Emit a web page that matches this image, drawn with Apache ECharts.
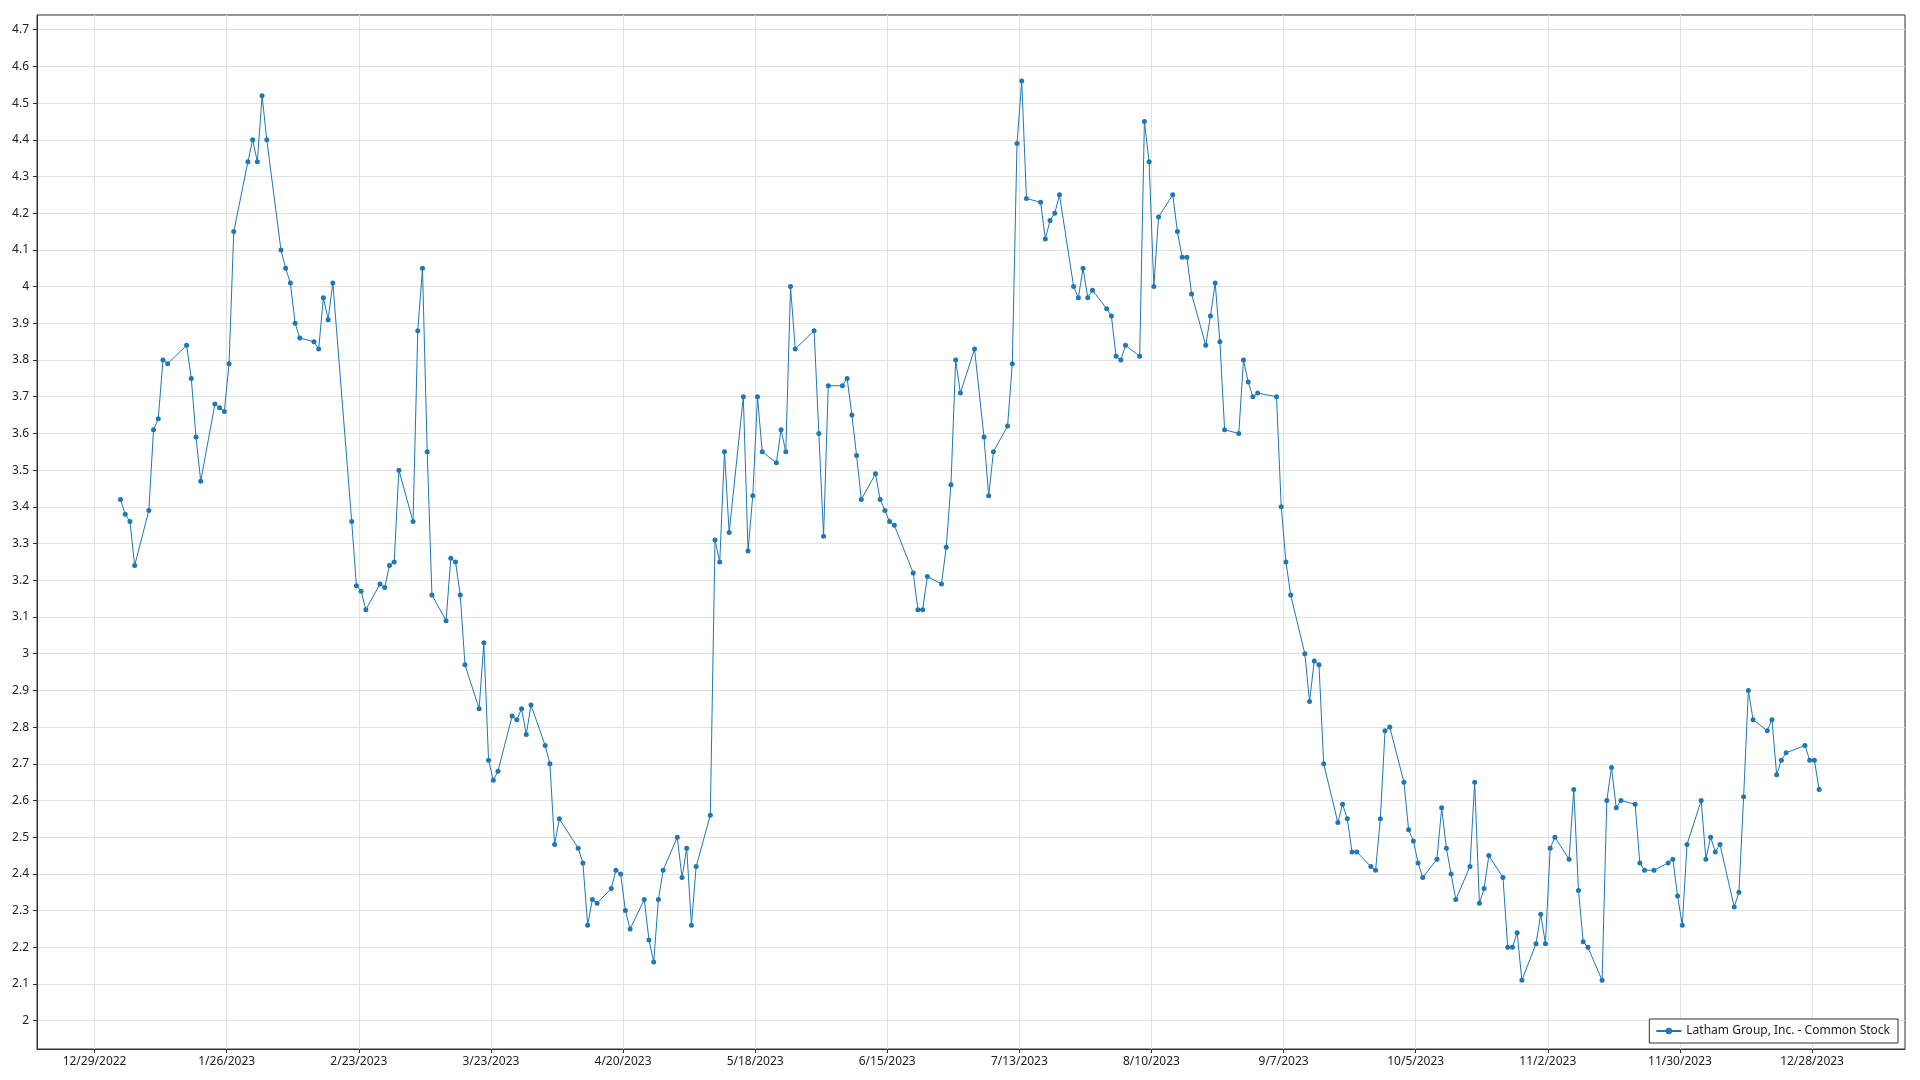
<!DOCTYPE html>
<html>
<head>
<meta charset="utf-8">
<script src="https://cdn.jsdelivr.net/npm/echarts@6/dist/echarts.min.js"></script>
<style>html,body{margin:0;padding:0;background:#fff}#c{width:1920px;height:1080px}</style>
</head>
<body>
<div id="c"></div>
<script>
const seriesName = 'Latham Group, Inc. - Common Stock';
const xTickLabels = ['12/29/2022','1/26/2023','2/23/2023','3/23/2023','4/20/2023','5/18/2023','6/15/2023','7/13/2023','8/10/2023','9/7/2023','10/5/2023','11/2/2023','11/30/2023','12/28/2023'];
const yTickLabels = ['2','2.1','2.2','2.3','2.4','2.5','2.6','2.7','2.8','2.9','3','3.1','3.2','3.3','3.4','3.5','3.6','3.7','3.8','3.9','4','4.1','4.2','4.3','4.4','4.5','4.6','4.7'];
const dates = [
'2023-01-03','2023-01-04','2023-01-05','2023-01-06','2023-01-09','2023-01-10','2023-01-11','2023-01-12','2023-01-13',
'2023-01-17','2023-01-18','2023-01-19','2023-01-20','2023-01-23','2023-01-24','2023-01-25','2023-01-26','2023-01-27',
'2023-01-30','2023-01-31','2023-02-01','2023-02-02','2023-02-03','2023-02-06','2023-02-07','2023-02-08','2023-02-09','2023-02-10',
'2023-02-13','2023-02-14','2023-02-15','2023-02-16','2023-02-17','2023-02-21','2023-02-22','2023-02-23','2023-02-24',
'2023-02-27','2023-02-28','2023-03-01','2023-03-02','2023-03-03','2023-03-06','2023-03-07','2023-03-08','2023-03-09','2023-03-10',
'2023-03-13','2023-03-14','2023-03-15','2023-03-16','2023-03-17','2023-03-20','2023-03-21','2023-03-22','2023-03-23','2023-03-24',
'2023-03-27','2023-03-28','2023-03-29','2023-03-30','2023-03-31','2023-04-03','2023-04-04','2023-04-05','2023-04-06',
'2023-04-10','2023-04-11','2023-04-12','2023-04-13','2023-04-14','2023-04-17','2023-04-18','2023-04-19','2023-04-20','2023-04-21',
'2023-04-24','2023-04-25','2023-04-26','2023-04-27','2023-04-28','2023-05-01','2023-05-02','2023-05-03','2023-05-04','2023-05-05',
'2023-05-08','2023-05-09','2023-05-10','2023-05-11','2023-05-12','2023-05-15','2023-05-16','2023-05-17','2023-05-18','2023-05-19',
'2023-05-22','2023-05-23','2023-05-24','2023-05-25','2023-05-26','2023-05-30','2023-05-31','2023-06-01','2023-06-02',
'2023-06-05','2023-06-06','2023-06-07','2023-06-08','2023-06-09','2023-06-12','2023-06-13','2023-06-14','2023-06-15','2023-06-16',
'2023-06-20','2023-06-21','2023-06-22','2023-06-23','2023-06-26','2023-06-27','2023-06-28','2023-06-29','2023-06-30',
'2023-07-03','2023-07-05','2023-07-06','2023-07-07','2023-07-10','2023-07-11','2023-07-12','2023-07-13','2023-07-14',
'2023-07-17','2023-07-18','2023-07-19','2023-07-20','2023-07-21','2023-07-24','2023-07-25','2023-07-26','2023-07-27','2023-07-28',
'2023-07-31','2023-08-01','2023-08-02','2023-08-03','2023-08-04','2023-08-07','2023-08-08','2023-08-09','2023-08-10','2023-08-11',
'2023-08-14','2023-08-15','2023-08-16','2023-08-17','2023-08-18','2023-08-21','2023-08-22','2023-08-23','2023-08-24','2023-08-25',
'2023-08-28','2023-08-29','2023-08-30','2023-08-31','2023-09-01','2023-09-05','2023-09-06','2023-09-07','2023-09-08',
'2023-09-11','2023-09-12','2023-09-13','2023-09-14','2023-09-15','2023-09-18','2023-09-19','2023-09-20','2023-09-21','2023-09-22',
'2023-09-25','2023-09-26','2023-09-27','2023-09-28','2023-09-29','2023-10-02','2023-10-03','2023-10-04','2023-10-05','2023-10-06',
'2023-10-09','2023-10-10','2023-10-11','2023-10-12','2023-10-13','2023-10-16','2023-10-17','2023-10-18','2023-10-19','2023-10-20',
'2023-10-23','2023-10-24','2023-10-25','2023-10-26','2023-10-27','2023-10-30','2023-10-31','2023-11-01','2023-11-02','2023-11-03',
'2023-11-06','2023-11-07','2023-11-08','2023-11-09','2023-11-10','2023-11-13','2023-11-14','2023-11-15','2023-11-16','2023-11-17',
'2023-11-20','2023-11-21','2023-11-22','2023-11-24','2023-11-27','2023-11-28','2023-11-29','2023-11-30','2023-12-01',
'2023-12-04','2023-12-05','2023-12-06','2023-12-07','2023-12-08','2023-12-11','2023-12-12','2023-12-13','2023-12-14','2023-12-15',
'2023-12-18','2023-12-19','2023-12-20','2023-12-21','2023-12-22','2023-12-26','2023-12-27','2023-12-28','2023-12-29'
];
const prices = [
3.42,3.38,3.36,3.24,3.39,3.61,3.64,3.80,3.79,
3.84,3.75,3.59,3.47,3.68,3.67,3.66,3.79,4.15,
4.34,4.40,4.34,4.52,4.40,4.10,4.05,4.01,3.90,3.86,
3.85,3.83,3.97,3.91,4.01,3.36,3.185,3.17,3.12,
3.19,3.18,3.24,3.25,3.50,3.36,3.88,4.05,3.55,3.16,
3.09,3.26,3.25,3.16,2.97,2.85,3.03,2.71,2.655,2.68,
2.83,2.82,2.85,2.78,2.86,2.75,2.70,2.48,2.55,
2.47,2.43,2.26,2.33,2.32,2.36,2.41,2.40,2.30,2.25,
2.33,2.22,2.16,2.33,2.41,2.50,2.39,2.47,2.26,2.42,
2.56,3.31,3.25,3.55,3.33,3.70,3.28,3.43,3.70,3.55,
3.52,3.61,3.55,4.00,3.83,3.88,3.60,3.32,3.73,
3.73,3.75,3.65,3.54,3.42,3.49,3.42,3.39,3.36,3.35,
3.22,3.12,3.12,3.21,3.19,3.29,3.46,3.80,3.71,
3.83,3.59,3.43,3.55,3.62,3.79,4.39,4.56,4.24,
4.23,4.13,4.18,4.20,4.25,4.00,3.97,4.05,3.97,3.99,
3.94,3.92,3.81,3.80,3.84,3.81,4.45,4.34,4.00,4.19,
4.25,4.15,4.08,4.08,3.98,3.84,3.92,4.01,3.85,3.61,
3.60,3.80,3.74,3.70,3.71,3.70,3.40,3.25,3.16,
3.00,2.87,2.98,2.97,2.70,2.54,2.59,2.55,2.46,2.46,
2.42,2.41,2.55,2.79,2.80,2.65,2.52,2.49,2.43,2.39,
2.44,2.58,2.47,2.40,2.33,2.42,2.65,2.32,2.36,2.45,
2.39,2.20,2.20,2.24,2.11,2.21,2.29,2.21,2.47,2.50,
2.44,2.63,2.355,2.215,2.20,2.11,2.60,2.69,2.58,2.60,
2.59,2.43,2.41,2.41,2.43,2.44,2.34,2.26,2.48,
2.60,2.44,2.50,2.46,2.48,2.31,2.35,2.61,2.90,2.82,
2.79,2.82,2.67,2.71,2.73,2.75,2.71,2.71,2.63
];

const DAY = 86400000;
const ORIGIN = Date.UTC(2022, 11, 29);
function isoDay(s) {
  const p = s.split('-').map(Number);
  return (Date.UTC(p[0], p[1] - 1, p[2]) - ORIGIN) / DAY;
}
function usDay(s) {
  const p = s.split('/').map(Number);
  return (Date.UTC(p[2], p[0] - 1, p[1]) - ORIGIN) / DAY;
}
const xTickValues = xTickLabels.map(usDay);
const yTickValues = yTickLabels.map(Number);
const points = dates.map((d, i) => [isoDay(d) + 0.5, prices[i]]);
function xFmt(v) {
  const i = xTickValues.findIndex(t => Math.abs(t - v) < 1e-6);
  return i >= 0 ? xTickLabels[i] : '';
}
function yFmt(v) {
  const i = yTickValues.findIndex(t => Math.abs(t - v) < 1e-6);
  return i >= 0 ? yTickLabels[i] : '';
}

const chart = echarts.init(document.getElementById('c'));
const font = 'Noto Sans';
chart.setOption({
  animation: false,
  backgroundColor: '#fff',
  grid: {left: 37, right: 15, top: 15, bottom: 31, show: true, borderColor: '#333', borderWidth: 1, containLabel: false},
  xAxis: {
    type: 'value', min: -12.2, max: 383.7,
    axisLine: {show: true, onZero: false, lineStyle: {color: '#333', width: 1}},
    axisTick: {show: true, length: 4, customValues: xTickValues, lineStyle: {color: '#333'}},
    axisLabel: {show: true, customValues: xTickValues, formatter: xFmt, color: '#222', fontFamily: font, fontSize: 12, margin: 7},
    splitLine: {show: true, lineStyle: {color: '#e2e2e2', width: 1}}
  },
  yAxis: {
    type: 'value', min: 1.923, max: 4.74,
    axisLine: {show: true, onZero: false, lineStyle: {color: '#333', width: 1}},
    axisTick: {show: true, length: 4, customValues: yTickValues, lineStyle: {color: '#333'}},
    axisLabel: {show: true, customValues: yTickValues, formatter: yFmt, color: '#222', fontFamily: font, fontSize: 12, margin: 8},
    splitLine: {show: true, lineStyle: {color: '#e2e2e2', width: 1}}
  },
  legend: {
    show: true, right: 22, bottom: 37, orient: 'horizontal',
    backgroundColor: '#fff', borderColor: '#333', borderWidth: 1, borderRadius: 0,
    padding: [6, 8, 6, 6], itemWidth: 25, itemHeight: 8, itemGap: 6,
    textStyle: {fontFamily: font, fontSize: 12, color: '#222'},
    data: [seriesName]
  },
  series: [{
    name: seriesName, type: 'line', data: points,
    symbol: 'circle', symbolSize: 5, showSymbol: true,
    itemStyle: {color: '#1f77b4'},
    lineStyle: {color: '#1f77b4', width: 1}
  }]
});
</script>
</body>
</html>
